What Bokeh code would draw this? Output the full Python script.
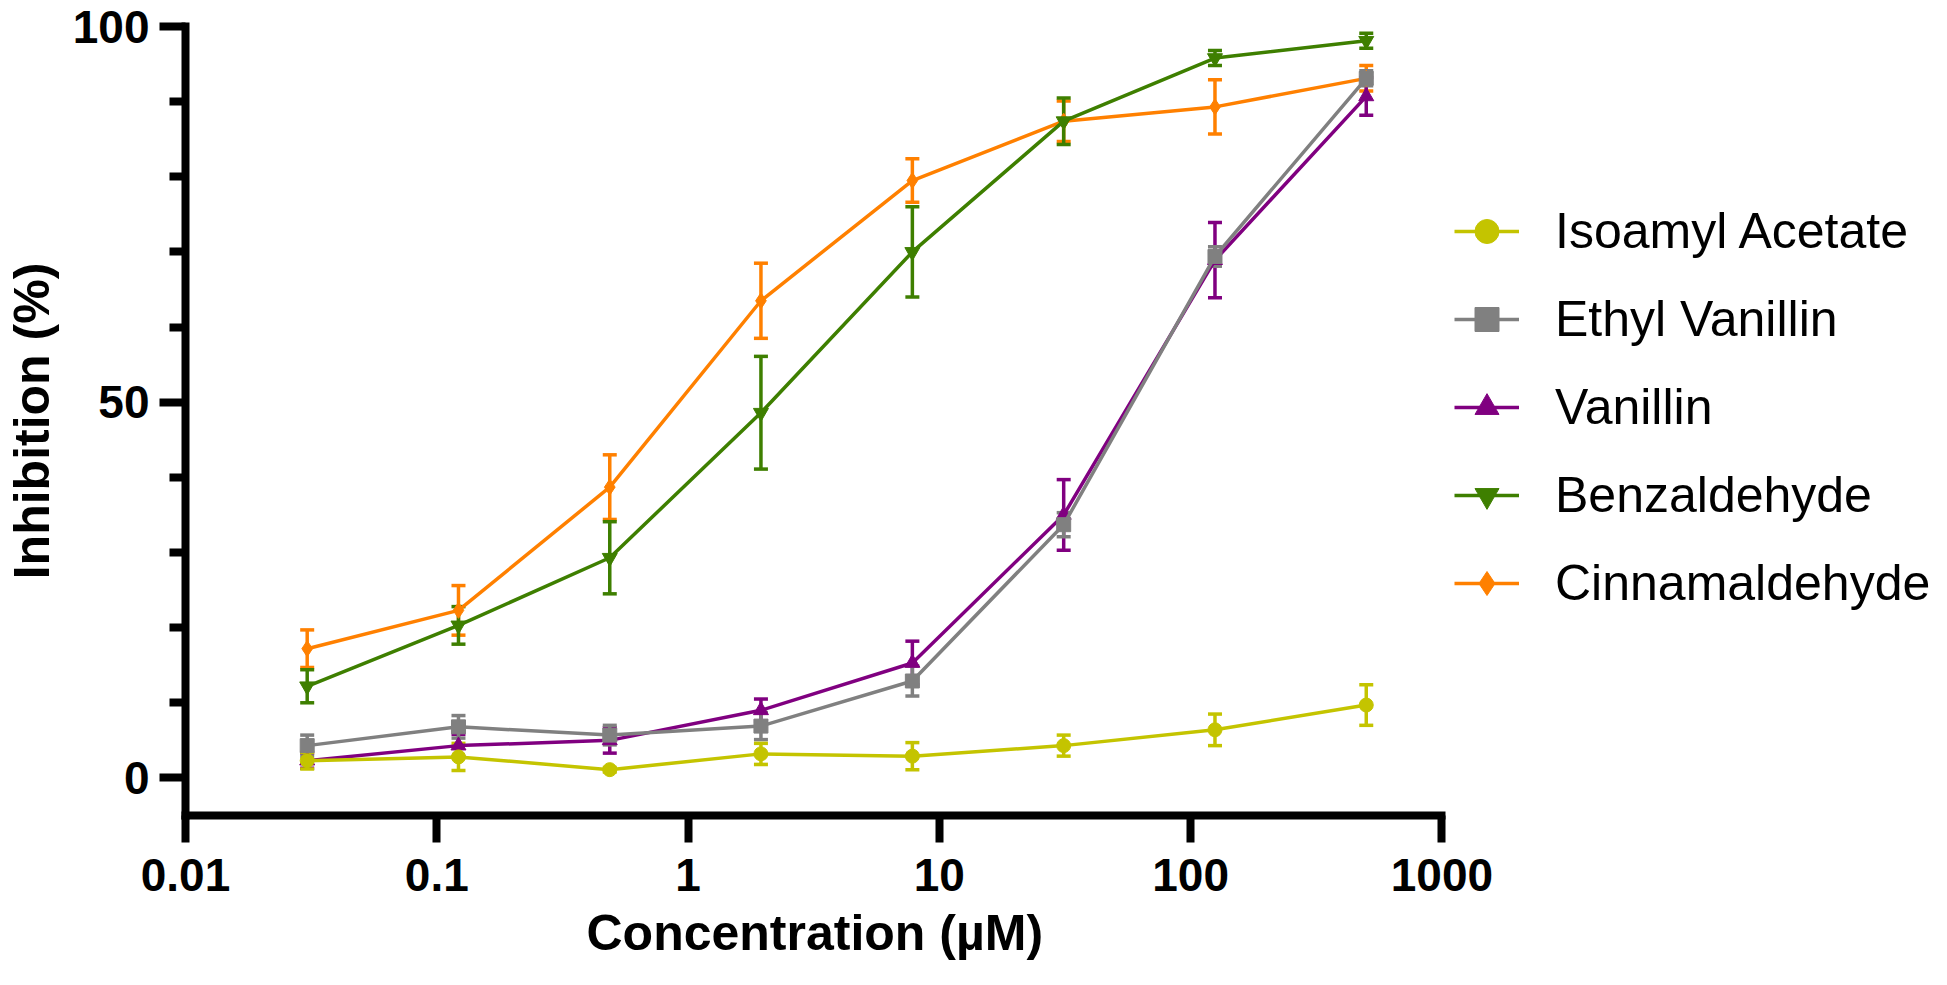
from bokeh.plotting import figure
from bokeh.models import (ColumnDataSource, Whisker, TeeHead, Legend, LegendItem,
                          FixedTicker, CustomJSTickFormatter, Range1d, Title)
from bokeh.embed import file_html
from bokeh.resources import INLINE

# ---- data -------------------------------------------------------------
concentration = [0.0305, 0.122, 0.488, 1.95, 7.81, 31.25, 125, 500]

series_names = ["Isoamyl Acetate", "Ethyl Vanillin", "Vanillin", "Benzaldehyde", "Cinnamaldehyde"]

isoamyl_mean = [2.3, 2.8, 1.1, 3.2, 2.9, 4.3, 6.4, 9.7]
isoamyl_err = [1.1, 1.8, 0.3, 1.4, 1.8, 1.4, 2.1, 2.7]

ethyl_vanillin_mean = [4.3, 6.8, 5.7, 6.9, 12.9, 33.7, 69.4, 93.1]
ethyl_vanillin_err = [1.4, 1.5, 1.3, 1.8, 2.0, 1.6, 1.3, 1.0]

vanillin_mean = [2.3, 4.3, 5.0, 9.0, 15.3, 35.0, 68.9, 90.7]
vanillin_err = [1.0, 1.5, 1.7, 1.5, 2.9, 4.7, 5.0, 2.5]

benzaldehyde_mean = [12.2, 20.3, 29.3, 48.6, 70.0, 87.4, 95.8, 98.1]
benzaldehyde_err = [2.2, 2.5, 4.8, 7.5, 6.0, 3.1, 1.0, 1.0]

cinnamaldehyde_mean = [17.2, 22.3, 38.7, 63.5, 79.5, 87.4, 89.3, 93.1]
cinnamaldehyde_err = [2.5, 3.3, 4.3, 5.0, 2.9, 2.7, 3.6, 1.7]

x_ticks = [0.01, 0.1, 1, 10, 100, 1000]
x_tick_labels = ["0.01", "0.1", "1", "10", "100", "1000"]
y_ticks = [0, 50, 100]
y_minor_ticks = [10, 20, 30, 40, 60, 70, 80, 90]

x_title = "Concentration (µM)"
y_title = "Inhibition (%)"

# ---- styles / layout ---------------------------------------------------
colors = ["#C4C400", "#808080", "#800080", "#3E7F00", "#FF8000"]
markers = ["circle", "square", "triangle", "inverted_triangle", "diamond"]
marker_sizes = [14, 14, 15, 15, 16]
means = [isoamyl_mean, ethyl_vanillin_mean, vanillin_mean, benzaldehyde_mean, cinnamaldehyde_mean]
errs = [isoamyl_err, ethyl_vanillin_err, vanillin_err, benzaldehyde_err, cinnamaldehyde_err]

FONT = "Liberation Sans"
W, H = 1931, 969
LEFT = 180
AXIS_PX = 1260          # pixels used by the 0.01 .. 1000 axis
frame_w = W - LEFT
x_end = 0.01 * 10 ** (5 * frame_w / AXIS_PX)   # frame extends under the legend

p = figure(width=W, height=H, x_axis_type="log",
           x_range=Range1d(0.01, x_end), y_range=Range1d(-5, 100),
           output_backend="svg", toolbar_location=None,
           min_border_left=LEFT, min_border_right=0,
           min_border_top=26, min_border_bottom=0)
p.outline_line_color = None
p.grid.visible = False
p.background_fill_color = "white"
p.border_fill_color = "white"

for ax in (p.xaxis[0], p.yaxis[0]):
    ax.axis_line_width = 8
    ax.axis_line_color = "black"
    ax.axis_line_cap = "square"
    ax.major_tick_line_width = 8
    ax.major_tick_line_color = "black"
    ax.minor_tick_line_width = 8
    ax.minor_tick_line_color = "black"
    ax.major_tick_in = 0
    ax.minor_tick_in = 0
    ax.major_label_text_font = FONT
    ax.major_label_text_font_style = "bold"
    ax.major_label_text_font_size = "46px"
    ax.major_label_text_color = "black"
    ax.axis_label_text_font = FONT
    ax.axis_label_text_font_style = "bold"
    ax.axis_label_text_font_size = "50px"
    ax.axis_label_text_color = "black"

xa = p.xaxis[0]
xa.bounds = (x_ticks[0], x_ticks[-1])
xa.ticker = FixedTicker(ticks=x_ticks, minor_ticks=[])
xa.formatter = CustomJSTickFormatter(args=dict(xt=x_ticks, xl=x_tick_labels), code="""
let best = 0, bd = Infinity;
for (let i = 0; i < xt.length; i++) {
  const d = Math.abs(Math.log10(xt[i]) - Math.log10(tick));
  if (d < bd) { bd = d; best = i; }
}
return xl[best];
""")
xa.major_tick_out = 27
xa.minor_tick_out = 0
xa.major_label_standoff = 16

# x-axis title centred under the 0.01 .. 1000 span of the axis
title_w = 458
x_title_model = Title(text=x_title, align="left", offset=AXIS_PX / 2 - title_w / 2,
                      text_font=FONT, text_font_size="50px", text_font_style="bold",
                      text_color="black", standoff=18)
p.add_layout(x_title_model, "below")

ya = p.yaxis[0]
ya.ticker = FixedTicker(ticks=y_ticks, minor_ticks=y_minor_ticks)
ya.major_tick_out = 26
ya.minor_tick_out = 16
ya.major_label_standoff = 10
ya.axis_label = y_title
ya.axis_label_standoff = 10

items = []
# draw in reverse so the first series sits on top
for i in reversed(range(len(series_names))):
    mean = means[i]
    err = errs[i]
    src = ColumnDataSource(dict(x=concentration, y=mean,
                                upper=[m + e for m, e in zip(mean, err)],
                                lower=[m - e for m, e in zip(mean, err)]))
    w = Whisker(base="x", upper="upper", lower="lower", source=src,
                line_color=colors[i], line_width=3.5,
                upper_head=TeeHead(size=14, line_color=colors[i], line_width=3.5),
                lower_head=TeeHead(size=14, line_color=colors[i], line_width=3.5))
    p.add_layout(w)
    lr = p.line("x", "y", source=src, line_color=colors[i], line_width=3.5)
    sr = p.scatter("x", "y", source=src, marker=markers[i], size=marker_sizes[i],
                   fill_color=colors[i], line_color=colors[i])
    items.append((i, LegendItem(label=series_names[i], renderers=[lr, sr])))

items = [it for _, it in sorted(items, key=lambda t: t[0])]

legend = Legend(items=items, location=(1269, 202),
                glyph_width=65, glyph_height=60, label_height=60,
                label_standoff=36, spacing=28, padding=0, margin=0,
                border_line_color=None, background_fill_alpha=0,
                label_text_font=FONT, label_text_font_size="50px",
                label_text_color="black")
p.add_layout(legend)

open("out.html", "w").write(file_html(p, INLINE))
